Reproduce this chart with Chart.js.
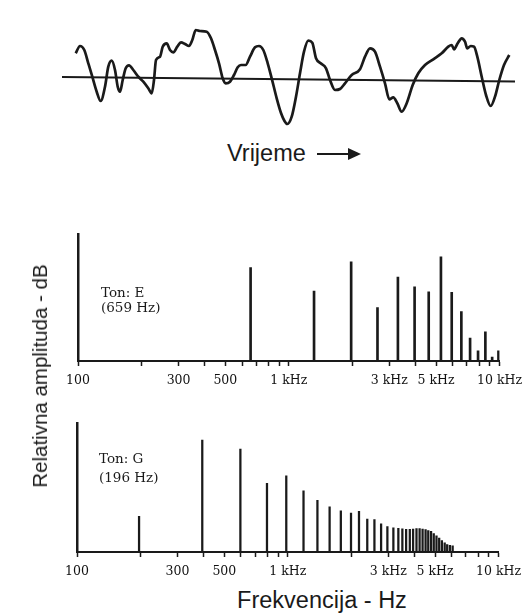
<!DOCTYPE html>
<html lang="hr">
<head>
    <meta charset="UTF-8">
    <title>Ton E i Ton G - valni oblik i spektar</title>
    <script src="https://cdn.jsdelivr.net/npm/chart.js"></script>
    <style>
    body {
        margin: 0;
        width: 529px;
        height: 615px;
        position: relative;
        overflow: hidden;
        background: #fff;
        color: #1a1a1a;
        font-family: "Liberation Sans", Arial, sans-serif;
    }
    .box { position: absolute; }
    .ton {
        position: absolute;
        font-family: "DejaVu Serif", serif;
        font-size: 13.5px;
        white-space: nowrap;
    }
    .lbl { position: absolute; white-space: nowrap; }
</style>
</head>
<body>
    <!-- valni oblik -->
    <div class="box" style="left:62px;top:20px;width:453px;height:110px"><canvas id="waveChart"></canvas></div>
    <div class="lbl" style="left:227px;top:140px;font-size:23.5px">Vrijeme</div>
    <div class="box" style="left:317px;top:153px;width:34px;height:2px;background:#1a1a1a"></div>
    <div class="box" style="left:348px;top:148px;width:0;height:0;border-top:6px solid transparent;border-bottom:6px solid transparent;border-left:13px solid #1a1a1a"></div>

    <!-- spektri -->
    <div class="box" style="left:0;top:224px;width:529px;height:170px"><canvas id="chartE"></canvas></div>
    <div class="ton" style="left:101px;top:285px;line-height:15px">Ton: E<br>(659 Hz)</div>

    <div class="box" style="left:0;top:410px;width:529px;height:175px"><canvas id="chartG"></canvas></div>
    <div class="ton" style="left:99px;top:449px;line-height:18.5px">Ton: G<br>(196 Hz)</div>

    <div class="lbl" style="left:40px;top:376px;font-size:20.5px;transform:translate(-50%,-50%) rotate(-90deg)">Relativna amplituda - dB</div>
    <div class="lbl" style="left:322px;top:600px;font-size:23.5px;transform:translate(-50%,-50%)">Frekvencija - Hz</div>

    <script>
        // valni oblik (vrijeme, amplituda)
        const waveT = [13.7, 18, 22.3, 26.3, 30.3, 34.7, 38.7, 43, 46.3, 49.7, 53, 55.7, 58, 60.7, 63.7, 67, 71.3, 76.3, 81.3, 86.3,
            89.7, 92, 94, 98, 100.7, 104.7, 108, 111.3, 115.3, 119, 123, 127, 130.3, 133.7, 138, 144.7, 149, 153, 157, 160.7,
            163.7, 168, 172, 175.7, 179, 183.7, 188, 193, 197, 201.3, 205.7, 209.7, 214.7, 219, 222.5, 225.3, 229.7, 234, 238, 242,
            246.3, 250.3, 254, 258.7, 264, 268, 273, 278, 283, 289.7, 298, 303, 308, 313, 318, 323, 327.3, 331.3, 335.3, 339.7,
            344.7, 350.7, 356.3, 363, 371.3, 379.7, 386.3, 389.7, 392, 395.7, 399.7, 403, 405.3, 408.7, 412, 415.3, 419.7, 424, 428.7, 433,
            437.3, 442, 447.3];
        const waveA = [25.7, 33, 29, 15.7, 2.3, -12.7, -22, -7.7, 12.3, 18.3, 9, -7.7, -12.7, -1, 10.7, 13.7, 9, 2.3, -2.7, -9.3,
            -14.3, -1, 19, 22.3, 32.3, 35.7, 29, 26.7, 32.3, 36.7, 35, 33, 39, 49, 48, 47.3, 40.7, 29, 15.7, 0.7,
            -4.3, -2.7, 4, 11.7, 14, 14, 22.3, 31.7, 33, 29, 15.7, 0.7, -19.3, -34, -42, -45, -37.7, -17.7, 5.7, 27.3,
            38.3, 36.3, 20.7, 15.7, 10.7, -1, -11, -10, -4.3, 4, 9.7, 22.3, 30.7, 27.3, 12.3, -4.3, -20.3, -18.3, -24.3, -32.7,
            -24.3, -6, 5.7, 14, 19.7, 25.7, 32.3, 34, 29.7, 35.7, 40.7, 37.3, 30.7, 33, 32.3, 22.3, 2.3, -16, -27, -17.7,
            -1, 14, 24];
        const axisT = [0, 453];
        const axisA = [2, -2.5];

        // Ton E (659 Hz)
        const eFreq = [659, 1318, 1977, 2636, 3295, 3954, 4613, 5272, 5931, 6590, 7249, 7908, 8567, 9226, 9885];
        const eLevel = [73.5, 55, 78, 42, 66, 58.5, 54.5, 82, 54, 39, 18, 8, 23, 3, 8];

        // Ton G (196 Hz)
        const gFreq = [197, 393, 596, 797, 984, 1188, 1383, 1580, 1786, 1996, 2178, 2384, 2578, 2773, 2970, 3171, 3348, 3498,
            3645, 3795, 3934, 4082, 4223, 4363, 4508, 4642, 4786, 4929, 5079, 5231, 5387, 5555, 5708, 5880, 6060];
        const gLevel = [27.6, 86.8, 79.8, 53.3, 59.1, 47.5, 40.1, 35, 31.9, 30.2, 31.5, 25.5, 25.1, 21.9, 19.8, 18.8, 18.3, 17.9,
            17.5, 17.5, 17.7, 18.1, 18.1, 17.7, 17.3, 16.7, 16, 14.2, 12.6, 10.7, 8.9, 7.2, 5.8, 5.1, 4.8];

        // oznake na osi frekvencije
        const tickHz = [100, 200, 300, 400, 500, 600, 700, 800, 900, 1000, 2000, 3000, 4000, 5000, 6000, 7000, 8000, 9000, 10000];
        const tickShown = [100, 300, 500, 1000, 3000, 5000, 10000];
        const tickText = ['100', '300', '500', '1 kHz', '3 kHz', '5 kHz', '10 kHz'];

        const ink = '#1a1a1a';

        new Chart(document.getElementById('waveChart'), {
            type: 'line',
            data: {
                datasets: [{
                    data: waveT.map((t, i) => ({ x: t, y: waveA[i] })),
                    borderColor: ink,
                    borderWidth: 2.7,
                    pointRadius: 0,
                    cubicInterpolationMode: 'monotone',
                    clip: false
                }, {
                    data: axisT.map((t, i) => ({ x: t, y: axisA[i] })),
                    borderColor: ink,
                    borderWidth: 2,
                    pointRadius: 0,
                    clip: false
                }]
            },
            options: {
                responsive: true,
                maintainAspectRatio: false,
                animation: false,
                plugins: { legend: { display: false }, tooltip: { enabled: false } },
                scales: {
                    x: { type: 'linear', min: 0, max: 453, display: false },
                    y: { min: -51, max: 59, display: false }
                }
            }
        });

        // spektar kao tanki stupci na log osi
        const spectrum = (id, freq, level, pad, barW) => new Chart(document.getElementById(id), {
            type: 'bar',
            data: {
                datasets: [{
                    data: freq.map((f, i) => ({ x: f, y: level[i] })),
                    backgroundColor: ink,
                    barThickness: barW
                }]
            },
            options: {
                responsive: true,
                maintainAspectRatio: false,
                animation: false,
                layout: { padding: pad },
                plugins: { legend: { display: false }, tooltip: { enabled: false } },
                scales: {
                    x: {
                        type: 'logarithmic',
                        min: 100,
                        max: 10000,
                        offset: false,
                        grid: {
                            offset: false,
                            drawOnChartArea: false,
                            drawTicks: true,
                            tickLength: 5,
                            tickWidth: 1.5,
                            tickColor: ink
                        },
                        border: { display: true, width: 2, color: ink },
                        ticks: {
                            autoSkip: false,
                            maxRotation: 0,
                            padding: 7,
                            color: '#111',
                            font: { family: 'DejaVu Serif', size: 12.5 },
                            callback: v => {
                                const k = tickShown.indexOf(v);
                                return k < 0 ? '' : tickText[k];
                            }
                        },
                        afterBuildTicks: a => { a.ticks = tickHz.map(v => ({ value: v })); },
                        afterFit: a => { a.height = 33; }
                    },
                    y: {
                        min: 0,
                        max: 100,
                        grid: { display: false, drawTicks: false },
                        ticks: { display: false },
                        border: { display: true, width: 2.5, color: ink },
                        afterFit: a => { a.width = 0; }
                    }
                }
            }
        });

        spectrum('chartE', eFreq, eLevel, { left: 78, right: 27, top: 10, bottom: 0 }, 2);
        spectrum('chartG', gFreq, gLevel, { left: 77, right: 30.5, top: 13, bottom: 0 }, 1.6);
    </script>
</body>
</html>
